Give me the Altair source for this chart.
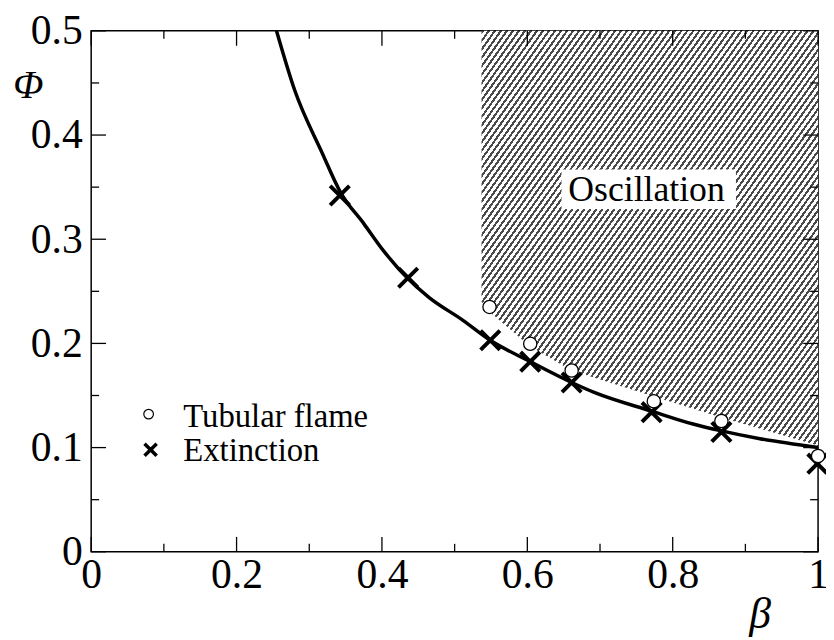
import altair as alt
import pandas as pd

# ---- data ----
beta_ext = [0.342, 0.436, 0.549, 0.604, 0.661, 0.771, 0.867, 0.999]
phi_ext = [0.342, 0.263, 0.203, 0.1825, 0.1625, 0.134, 0.115, 0.0846]

beta_tub = [0.548, 0.604, 0.661, 0.774, 0.867, 1.0]
phi_tub = [0.235, 0.1996, 0.174, 0.1445, 0.1255, 0.092]

beta_curve = [0.255, 0.28, 0.317, 0.343, 0.375, 0.402, 0.436, 0.465, 0.511,
              0.549, 0.604, 0.661, 0.692, 0.771, 0.828, 0.867, 0.92, 1.0]
phi_curve = [0.5, 0.443, 0.384, 0.345, 0.315, 0.289, 0.262, 0.244, 0.2224,
             0.203, 0.1825, 0.1625, 0.153, 0.135, 0.1226, 0.116, 0.1085, 0.100]

beta_osc = [0.537, 0.552, 0.604, 0.661, 0.774, 0.867, 1.0]
phi_osc = [0.240, 0.228, 0.197, 0.174, 0.149, 0.129, 0.102]

x_major = [0.0, 0.2, 0.4, 0.6, 0.8, 1.0]
x_minor = [0.1, 0.3, 0.5, 0.7, 0.9]
y_major = [0.0, 0.1, 0.2, 0.3, 0.4, 0.5]
y_minor = [0.05, 0.15, 0.25, 0.35, 0.45]

legend_labels = ["Tubular flame", "Extinction"]
region_label = "Oscillation"
region_label_pos = (0.764, 0.347)

# ---- layout / style ----
W, H = 734, 526
FONT = "Liberation Serif"

df_ext = pd.DataFrame({"beta": beta_ext, "phi": phi_ext})
df_tub = pd.DataFrame({"beta": beta_tub, "phi": phi_tub})
df_curve = pd.DataFrame({"beta": beta_curve, "phi": phi_curve})
df_osc = pd.DataFrame({"beta": beta_osc, "phi": phi_osc})

xscale = alt.Scale(domain=[0, 1], nice=False, zero=False)
yscale = alt.Scale(domain=[0, 0.5], nice=False, zero=False)

xaxis = alt.Axis(values=x_major, format="~g", labelFont=FONT, labelFontSize=42,
                 labelColor="black", ticks=False, domain=False, grid=False,
                 labelPadding=3, labelFlush=False, labelOverlap=False, labelBound=False,
                 title="β", titleFont=FONT, titleFontSize=44, titleFontStyle="italic",
                 titleFontWeight="normal", titleColor="black", titleAngle=0,
                 titleX=675, titleY=63, titleAlign="center", titleBaseline="middle")
yaxis = alt.Axis(values=y_major, format="~g", labelFont=FONT, labelFontSize=42,
                 labelColor="black", ticks=False, domain=False, grid=False,
                 labelPadding=9, labelFlush=False, labelOverlap=False, labelBound=False,
                 title="Φ", titleFont=FONT, titleFontSize=40, titleFontStyle="italic",
                 titleFontWeight="normal", titleColor="black", titleAngle=0,
                 titleX=-64, titleY=55, titleAlign="center", titleBaseline="middle")


def X(field="beta"):
    return alt.X(f"{field}:Q", scale=xscale, axis=xaxis)


def Y(field="phi"):
    return alt.Y(f"{field}:Q", scale=yscale, axis=yaxis)


# hatch pattern via striped linear gradient
N = 105
dark, light = "#4a4a4a", "#ffffff"
stops = []
for k in range(N):
    a = k / N
    m = (k + 0.42) / N
    b = (k + 1) / N
    stops += [alt.GradientStop(offset=a, color=dark), alt.GradientStop(offset=m, color=dark),
              alt.GradientStop(offset=m, color=light), alt.GradientStop(offset=b, color=light)]
hatch = alt.LinearGradient(gradient="linear", stops=stops, x1=0, y1=0, x2=1.06, y2=0.93)

osc = alt.Chart(df_osc).mark_area(color=hatch, interpolate="linear").encode(
    x=X(), y=Y(), y2=alt.datum(0.5))

lx, ly = region_label_pos
box = alt.Chart(pd.DataFrame({"a": [0]})).mark_rect(color="white").encode(
    x=alt.datum(lx - 0.117, scale=xscale), x2=alt.datum(lx + 0.123),
    y=alt.datum(ly - 0.018, scale=yscale), y2=alt.datum(ly + 0.02))
label = alt.Chart(pd.DataFrame({"beta": [lx], "phi": [ly], "t": [region_label]})).mark_text(
    font=FONT, fontSize=36, color="black", baseline="middle", align="center").encode(
    x=X(), y=Y(), text="t:N")

curve = alt.Chart(df_curve).mark_line(color="black", strokeWidth=3.5,
                                      interpolate="monotone", clip=True).encode(x=X(), y=Y())

XPATH = "M-1,-1L1,1M-1,1L1,-1"
ext = alt.Chart(df_ext).mark_point(shape=XPATH, size=380, filled=False, color="black",
                                   strokeWidth=4, opacity=1).encode(x=X(), y=Y())
tub = alt.Chart(df_tub).mark_point(shape="circle", size=180, filled=True, fill="white",
                                   stroke="black", strokeWidth=1.3, opacity=1).encode(x=X(), y=Y())


def ticks(vals, side, length):
    d = pd.DataFrame({"v": vals})
    c = alt.Chart(d).mark_rule(color="black", strokeWidth=1.3)
    if side == "bottom":
        return c.encode(x=X("v"), y=alt.value(H), y2=alt.value(H - length))
    if side == "top":
        return c.encode(x=X("v"), y=alt.value(0), y2=alt.value(length))
    if side == "left":
        return c.encode(y=Y("v"), x=alt.value(0), x2=alt.value(length))
    return c.encode(y=Y("v"), x=alt.value(W), x2=alt.value(W - length))


tick_layers = []
for side in ["bottom", "top"]:
    tick_layers += [ticks(x_major, side, 15), ticks(x_minor, side, 8)]
for side in ["left", "right"]:
    tick_layers += [ticks(y_major, side, 15), ticks(y_minor, side, 8)]

one = pd.DataFrame({"a": [0]})
leg_circ = alt.Chart(one).mark_point(shape="circle", size=95, filled=True, fill="white",
                                     stroke="black", strokeWidth=1.2, opacity=1).encode(
    x=alt.value(58), y=alt.value(387))
leg_x = alt.Chart(one).mark_point(shape=XPATH, size=150, filled=False, color="black",
                                  strokeWidth=3.5, opacity=1).encode(
    x=alt.value(60), y=alt.value(423))
leg_t1 = alt.Chart(one).mark_text(text=legend_labels[0], font=FONT, fontSize=33, color="black",
                                  align="left", baseline="alphabetic").encode(
    x=alt.value(93), y=alt.value(400))
leg_t2 = alt.Chart(one).mark_text(text=legend_labels[1], font=FONT, fontSize=33, color="black",
                                  align="left", baseline="alphabetic").encode(
    x=alt.value(93), y=alt.value(434))

chart = alt.layer(osc, box, label, curve, ext, tub, *tick_layers,
                  leg_circ, leg_x, leg_t1, leg_t2).properties(
    width=W, height=H,
    autosize=alt.AutoSizeParams(type="none"),
    padding={"left": 84, "top": 20, "right": 8, "bottom": 86},
    background="white",
).configure_view(stroke="black", strokeWidth=1.5)

chart.save("out.html", embed_options={"renderer": "svg", "actions": False})
